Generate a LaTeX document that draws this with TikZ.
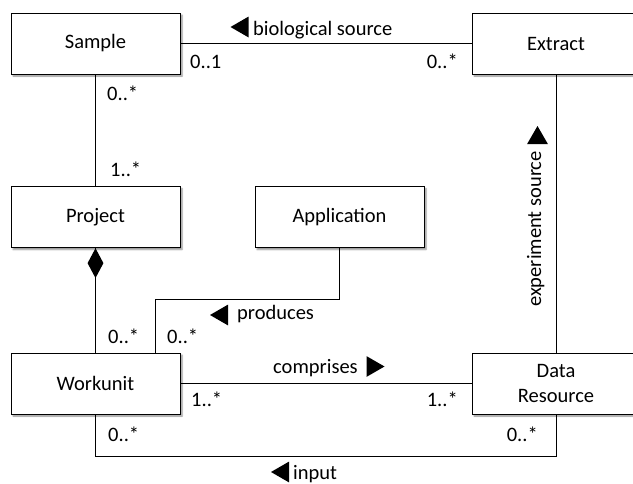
\documentclass[tikz,border=0pt]{standalone}
\usepackage{fontspec}
\setmainfont{Carlito}
\usetikzlibrary{shapes.geometric,shadows.blur}
\begin{document}
\begin{tikzpicture}[x=1pt,y=-1pt,
  cls/.style={draw, fill=white, line width=0.9pt, minimum width=169pt, minimum height=61pt,
    inner sep=0pt, align=center, font=\fontsize{20.5}{25.5}\selectfont,
    blur shadow={shadow xshift=2pt, shadow yshift=-2pt, shadow blur steps=5,
      shadow blur radius=1.5pt, shadow opacity=45}},
  lbl/.style={inner sep=0pt, font=\fontsize{20.5}{25}\selectfont},
  tri/.style={regular polygon, regular polygon sides=3, fill=black, inner sep=0pt, minimum size=24pt},
  conn/.style={line width=0.8pt}
]
\useasboundingbox (0,0) rectangle (633,483);

% classes
\node[cls] (Sample) at (95.5,43.5) {Sample};
\node[cls, minimum width=168pt] (Extract) at (556,43.5) {Extract};
\node[cls] (Project) at (95.5,217) {Project};
\node[cls] (Application) at (339.5,217) {Application};
\node[cls] (Workunit) at (95.5,383.5) {Workunit};
\node[cls, minimum width=168pt] (DataRes) at (556,383.5) {Data\\Resource};

% helper coordinates
\coordinate (pj) at (155,299);
\coordinate (ib) at (556,456);

% connectors
\draw[conn] (Sample.east) -- (Extract.west);
\draw[conn] (Sample.south) -- (Project.north);
\draw[conn] (Project.south) -- (Workunit.north);
\node[diamond, fill=black, inner sep=0pt, minimum width=16pt, minimum height=30pt, anchor=north] (comp) at (Project.south) {};
\draw[conn] (Application.south) |- (pj) -- (pj |- Workunit.north);
\draw[conn] (Workunit.east) -- (DataRes.west);
\draw[conn] (Extract.south) -- (DataRes.north);
\draw[conn] (Workunit.south) |- (ib) -- (DataRes.south);

% multiplicities
\node[lbl, anchor=base west] (m1) at (190,68) {0..1};
\node[lbl, anchor=base east] (m2) at (458,68) {0..*};
\node[lbl, anchor=base west] (m3) at (107,100) {0..*};
\node[lbl, anchor=base west] (m4) at (110,176) {1..*};
\node[lbl, anchor=base west] (m5) at (108,343) {0..*};
\node[lbl, anchor=base west] (m6) at (167,343) {0..*};
\node[lbl, anchor=base west] (m7) at (191,406) {1..*};
\node[lbl, anchor=base east] (m8) at (458,406) {1..*};
\node[lbl, anchor=base west] (m9) at (108,441) {0..*};
\node[lbl, anchor=base east] (m10) at (538,441) {0..*};

% association names
\node[tri, rotate=90] (t1) at (242.5,27) {};
\node[lbl, anchor=base west] (n1) at (253,35) {biological source};
\node[tri, rotate=90] (t2) at (222,315) {};
\node[lbl, anchor=base west] (n2) at (237,319) {produces};
\node[lbl, anchor=base west] (n3) at (273,373) {comprises};
\node[tri, rotate=-90] (t3) at (372.5,366.5) {};
\node[tri, rotate=90] (t4) at (283,472) {};
\node[lbl, anchor=base west] (n4) at (293,479) {input};
\node[lbl, anchor=base west, rotate=90] (n5) at (541,307) {experiment source};
\node[tri] (t5) at (537.5,138) {};
\end{tikzpicture}
\end{document}
